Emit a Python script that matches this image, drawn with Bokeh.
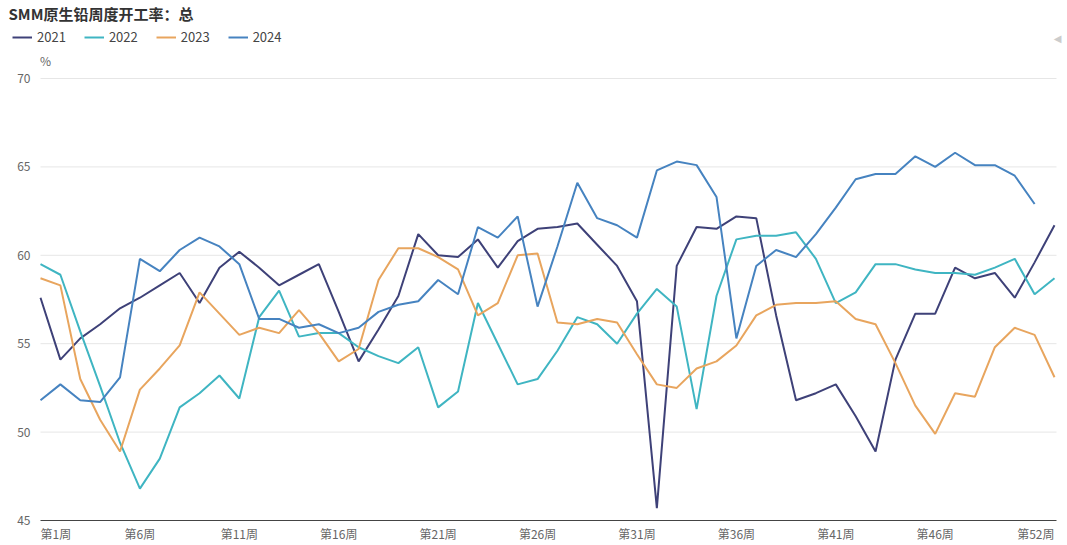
from bokeh.plotting import figure
from bokeh.models import Range1d, Label, Legend, LegendItem, ColumnDataSource
from bokeh.core.properties import value
from bokeh.embed import file_html
from bokeh.resources import INLINE

# ---------------- data ----------------
weeks = list(range(1, 53))
week_labels = [f"第{w}周" for w in weeks]
shown_ticks = [1, 6, 11, 16, 21, 26, 31, 36, 41, 46, 52]
y_ticks = [45, 50, 55, 60, 65, 70]
series_names = ["2021", "2022", "2023", "2024"]

v2021 = [57.6, 54.1, 55.3, 56.1, 57.0, 57.6, 58.3, 59.0, 57.3, 59.3,
         60.2, 59.3, 58.3, 58.9, 59.5, 56.8, 54.0, 55.8, 57.7, 61.2,
         60.0, 59.9, 60.9, 59.3, 60.8, 61.5, 61.6, 61.8, 60.6, 59.4,
         57.4, 45.7, 59.4, 61.6, 61.5, 62.2, 62.1, 56.6, 51.8, 52.2,
         52.7, 50.9, 48.9, 54.1, 56.7, 56.7, 59.3, 58.7, 59.0, 57.6,
         59.6, 61.7]
v2022 = [59.5, 58.9, 55.7, 52.6, 49.4, 46.8, 48.5, 51.4, 52.2, 53.2,
         51.9, 56.5, 58.0, 55.4, 55.6, 55.6, 54.8, 54.3, 53.9, 54.8,
         51.4, 52.3, 57.3, 55.0, 52.7, 53.0, 54.6, 56.5, 56.1, 55.0,
         56.7, 58.1, 57.1, 51.3, 57.7, 60.9, 61.1, 61.1, 61.3, 59.8,
         57.3, 57.9, 59.5, 59.5, 59.2, 59.0, 59.0, 58.9, 59.3, 59.8,
         57.8, 58.7]
v2023 = [58.7, 58.3, 53.0, 50.7, 48.9, 52.4, 53.6, 54.9, 57.9, 56.7,
         55.5, 55.9, 55.6, 56.9, 55.6, 54.0, 54.7, 58.6, 60.4, 60.4,
         59.9, 59.2, 56.6, 57.3, 60.0, 60.1, 56.2, 56.1, 56.4, 56.2,
         54.4, 52.7, 52.5, 53.6, 54.0, 54.9, 56.6, 57.2, 57.3, 57.3,
         57.4, 56.4, 56.1, 53.9, 51.5, 49.9, 52.2, 52.0, 54.8, 55.9,
         55.5, 53.1]
v2024 = [51.8, 52.7, 51.8, 51.7, 53.1, 59.8, 59.1, 60.3, 61.0, 60.5,
         59.5, 56.4, 56.4, 55.9, 56.1, 55.6, 55.9, 56.8, 57.2, 57.4,
         58.6, 57.8, 61.6, 61.0, 62.2, 57.1, 60.5, 64.1, 62.1, 61.7,
         61.0, 64.8, 65.3, 65.1, 63.3, 55.3, 59.4, 60.3, 59.9, 61.2,
         62.7, 64.3, 64.6, 64.6, 65.6, 65.0, 65.8, 65.1, 65.1, 64.5,
         62.9]
series_values = [v2021, v2022, v2023, v2024]
colors = ["#3e4178", "#3fb5c2", "#e8a55e", "#4683c0"]

title_text = "SMM原生铅周度开工率：总"
unit_text = "%"

# ---------------- layout (pixels) ----------------
W, H = 1067, 545
PLOT_L, PLOT_R, PLOT_T, PLOT_B = 40, 1054, 78, 520
FONT = "Noto Sans CJK SC"

px_x = (PLOT_R - PLOT_L) / (weeks[-1] - weeks[0])
px_y = (PLOT_B - PLOT_T) / (y_ticks[-1] - y_ticks[0])
x_start = weeks[0] - PLOT_L / px_x
x_end = weeks[-1] + (W - PLOT_R) / px_x
y_end = y_ticks[-1] + PLOT_T / px_y
y_start = y_ticks[0] - (H - PLOT_B) / px_y

p = figure(width=W, height=H,
           x_range=Range1d(x_start, x_end), y_range=Range1d(y_start, y_end),
           x_axis_location=None, y_axis_location=None,
           output_backend="svg", toolbar_location=None,
           min_border=0)
p.outline_line_color = None
p.background_fill_color = "white"
p.border_fill_color = "white"
p.grid.visible = False

grid_x1 = weeks[-1] + 2 / px_x
# horizontal grid lines
p.segment(x0=[weeks[0]] * (len(y_ticks) - 1), x1=[grid_x1] * (len(y_ticks) - 1),
          y0=y_ticks[1:], y1=y_ticks[1:], line_color="#e6e6e6", line_width=1)
# x axis line
p.segment(x0=[weeks[0]], x1=[grid_x1], y0=[y_ticks[0]], y1=[y_ticks[0]],
          line_color="#444444", line_width=1)

renderers = []
for name, vals, c in zip(series_names, series_values, colors):
    r = p.line(weeks[:len(vals)], vals, line_width=2, line_color=c)
    renderers.append(r)

# y tick labels
p.text(x=[weeks[0]] * len(y_ticks), y=y_ticks, text=[str(t) for t in y_ticks],
       x_offset=-10, text_align="right", text_baseline="middle",
       text_font=value(FONT), text_font_size="12px", text_color="#666666")

# x tick labels
xt_src = ColumnDataSource(dict(
    x=shown_ticks,
    y=[y_ticks[0]] * len(shown_ticks),
    text=[week_labels[t - 1] for t in shown_ticks],
    align=["left"] + ["center"] * (len(shown_ticks) - 2) + ["right"],
))
p.text(x="x", y="y", text="text", source=xt_src, text_align="align",
       y_offset=13, text_baseline="middle",
       text_font=value(FONT), text_font_size="12px", text_color="#666666")

# unit
p.add_layout(Label(x=weeks[0], y=y_ticks[-1], text=unit_text, x_offset=5, y_offset=18,
                   text_align="center", text_baseline="middle",
                   text_font=FONT, text_font_size="12px", text_color="#666666"))

# title
p.add_layout(Label(x=weeks[0], y=y_ticks[-1], text=title_text, x_offset=-32, y_offset=65,
                   text_align="left", text_baseline="middle",
                   text_font=FONT, text_font_size="15px", text_font_style="bold",
                   text_color="#333333"))

# legend pager arrow
p.add_layout(Label(x=weeks[-1], y=y_ticks[-1], text="◀", x_offset=3, y_offset=40,
                   text_align="center", text_baseline="middle",
                   text_font="DejaVu Sans", text_font_size="10px", text_color="#cccccc"))

legend = Legend(items=[LegendItem(label=n, renderers=[r]) for n, r in zip(series_names, renderers)],
                orientation="horizontal", location=(12, H - 46),
                glyph_width=20, glyph_height=16, label_height=16,
                label_standoff=5, spacing=18, padding=0, margin=0,
                border_line_color=None, background_fill_alpha=0,
                label_text_font=FONT, label_text_font_size="13px",
                label_text_color="#444444")
p.add_layout(legend)

open("out.html", "w").write(file_html(p, INLINE))
